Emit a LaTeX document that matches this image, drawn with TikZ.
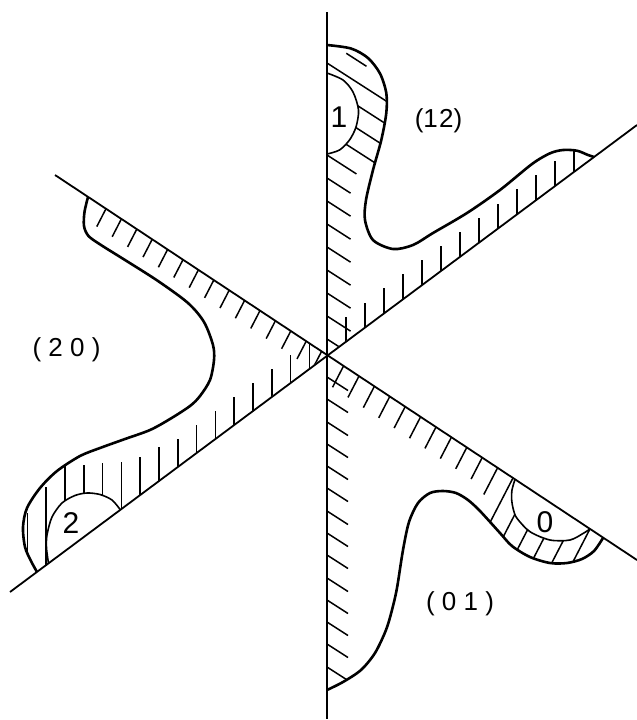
\documentclass[tikz,border=0pt]{standalone}
\usepackage{fontspec}
\setmainfont{Liberation Sans}
\begin{document}
\begin{tikzpicture}[x=0.5pt,y=-0.5pt,
  axisline/.style={line width=0.9pt},
  bound/.style={line width=1.3pt, line join=round},
  arcline/.style={line width=0.8pt},
  hatchline/.style={line width=0.75pt},
  lbl/.style={inner sep=0pt, font=\fontsize{13}{15}\selectfont},
  num/.style={inner sep=0pt, font=\fontsize{15}{17}\selectfont}]

\fill[white] (0,0) rectangle (637,720);
\useasboundingbox (0,0) rectangle (637,720);

\coordinate (O) at (327,355);
\coordinate (Vt) at (327,12);
\coordinate (Vb) at (327,719);
\coordinate (Aa) at (55,175);
\coordinate (Ab) at (637,560);
\coordinate (Ba) at (10,592);
\coordinate (Bb) at (637,125);

% ---------- hatching, region (12) ----------
\begin{scope}
\clip (O) -- (327,45) -- plot[smooth] coordinates {(327,45) (351,48.5) (368,58) (380,73.5) (386.3,93) (386.3,113) (381.3,140) (373,170) (366,200) (365,220) (373,240) (393,249) (413,245) (433,233) (467,213) (500,190) (532,164) (550,153.3) (563,150) (577,150.7) (588,155) (594,157)} -- cycle;
\foreach \y/\L in {63/80,86/80,109/80,132/80,155/35,178/28,201/28,224/28,247/28,270/28,293/28,316/28,339/28}
  \draw[hatchline] (327,\y) -- ++({0.84*\L},{0.54*\L});
\draw[hatchline] (346.3,53.3) -- ++(20.2,13);
\foreach \x/\L in {346/25,365/25,384/25,403/25,422/25,441/25,460/25,479/25,498/25,517/25,536/25,555/25,574/30}
  \draw[hatchline] (\x,{592-0.7448*(\x-10)}) -- ++(0,-\L);
\end{scope}

% ---------- hatching, region (01) ----------
\begin{scope}
\clip (O) -- (603,538) -- plot[smooth] coordinates {(603,538) (594,551) (582,559) (567,563) (550,563) (530,557) (512,546) (500,533) (480,511) (468,500) (456,493) (443,491) (430,493) (418,503) (409,522) (403,550) (397,588) (392,610) (386,630) (375,653) (361,670) (343,682) (327,690)} -- cycle;
\foreach \y in {377,399,422,444,466,488,511,533,555,578,600,622,644,667}
  \draw[hatchline] (327,\y) -- ++({0.84*25},{0.54*25});
\foreach \x/\L in {343.6/24,359/24,374.4/24,389.8/24,405.2/24,420.6/24,436/24,451.4/24,466.8/24,482.2/24,497.6/30,513/50,528.4/70,543.8/70,559.2/70,574.6/70,590/70}
  \draw[hatchline] (\x,{175+0.6615*(\x-55)}) -- ++({-0.46*\L},{0.89*\L});
\end{scope}

% ---------- hatching, region (20) ----------
\begin{scope}
\clip (O) -- (88,197) -- plot[smooth] coordinates {(88,197) (84.5,212) (84,226) (88.5,236) (101,245) (125,260) (158,281) (188,303) (204,322) (213,345) (214,360) (210,380) (200,396) (190,406) (170,419) (150,430) (125,439) (100,448) (80,456) (57,471) (40,488) (27,508) (23,527) (25,547) (31,561) (37,572)} -- cycle;
\foreach \x in {106,121.4,136.8,152.2,167.6,183,198.4,213.8,229.2,244.6,260,275.4,290.8,306.2,321.6}
  \draw[hatchline] (\x,{175+0.6615*(\x-55)}) -- ++({-0.46*20},{0.89*20});
\foreach \x/\L in {27.4/66,46.2/78,65/90,83.8/72,102.6/60,121.4/47,140.2/38,159/34,177.8/28,196.6/28,215.4/28,234.2/28,253/28,271.8/28,290.6/28,309.4/28}
  \draw[hatchline] (\x,{592-0.7448*(\x-10)}) -- ++(0,-\L);
\end{scope}

% ---------- blank interiors of the small half discs ----------
\fill[white] plot[smooth] coordinates {(327,73) (343,80) (353,92) (358.5,110) (356,127) (349.5,140) (339.5,150) (327,154)} -- cycle;
\fill[white] plot[smooth] coordinates {(48.5,563.3) (46.5,548) (47,535) (52,517) (62,503) (75,495.5) (87,493) (100,494.5) (112,500) (120,509.4)} -- cycle;
\fill[white] plot[smooth] coordinates {(515,479.4) (512,490) (511.7,500) (513.5,510) (517,518.3) (530,531.7) (550,540) (570,540) (583.3,533.3) (590,529)} -- cycle;

% ---------- the three lines ----------
\draw[axisline] (Vt) -- (Vb);
\draw[axisline] (Aa) -- (Ab);
\draw[axisline] (Ba) -- (Bb);

% ---------- boundary curves ----------
\draw[bound] plot[smooth] coordinates {(327,45) (351,48.5) (368,58) (380,73.5) (386.3,93) (386.3,113) (381.3,140) (373,170) (366,200) (365,220) (373,240) (393,249) (413,245) (433,233) (467,213) (500,190) (532,164) (550,153.3) (563,150) (577,150.7) (588,155) (594,157)};
\draw[bound] plot[smooth] coordinates {(603,538) (594,551) (582,559) (567,563) (550,563) (530,557) (512,546) (500,533) (480,511) (468,500) (456,493) (443,491) (430,493) (418,503) (409,522) (403,550) (397,588) (392,610) (386,630) (375,653) (361,670) (343,682) (327,690)};
\draw[bound] plot[smooth] coordinates {(88,197) (84.5,212) (84,226) (88.5,236) (101,245) (125,260) (158,281) (188,303) (204,322) (213,345) (214,360) (210,380) (200,396) (190,406) (170,419) (150,430) (125,439) (100,448) (80,456) (57,471) (40,488) (27,508) (23,527) (25,547) (31,561) (37,572)};

% ---------- half discs ----------
\draw[arcline] plot[smooth] coordinates {(327,73) (343,80) (353,92) (358.5,110) (356,127) (349.5,140) (339.5,150) (327,154)};
\draw[arcline] plot[smooth] coordinates {(48.5,563.3) (46.5,548) (47,535) (52,517) (62,503) (75,495.5) (87,493) (100,494.5) (112,500) (120,509.4)};
\draw[arcline] plot[smooth] coordinates {(515,479.4) (512,490) (511.7,500) (513.5,510) (517,518.3) (530,531.7) (550,540) (570,540) (583.3,533.3) (590,529)};

% ---------- labels ----------
\node[num] (n1) at (339,117) {1};
\node[num] (n2) at (71,523) {2};
\node[num] (n0) at (545,522) {0};
\node[lbl] (l12) at (438.5,121) {(1\kern0.6pt 2)};
\node[lbl] (l20) at (66.5,350) {( 2 0 )};
\node[lbl] (l01) at (460,604) {( 0 1 )};
\end{tikzpicture}
\end{document}
